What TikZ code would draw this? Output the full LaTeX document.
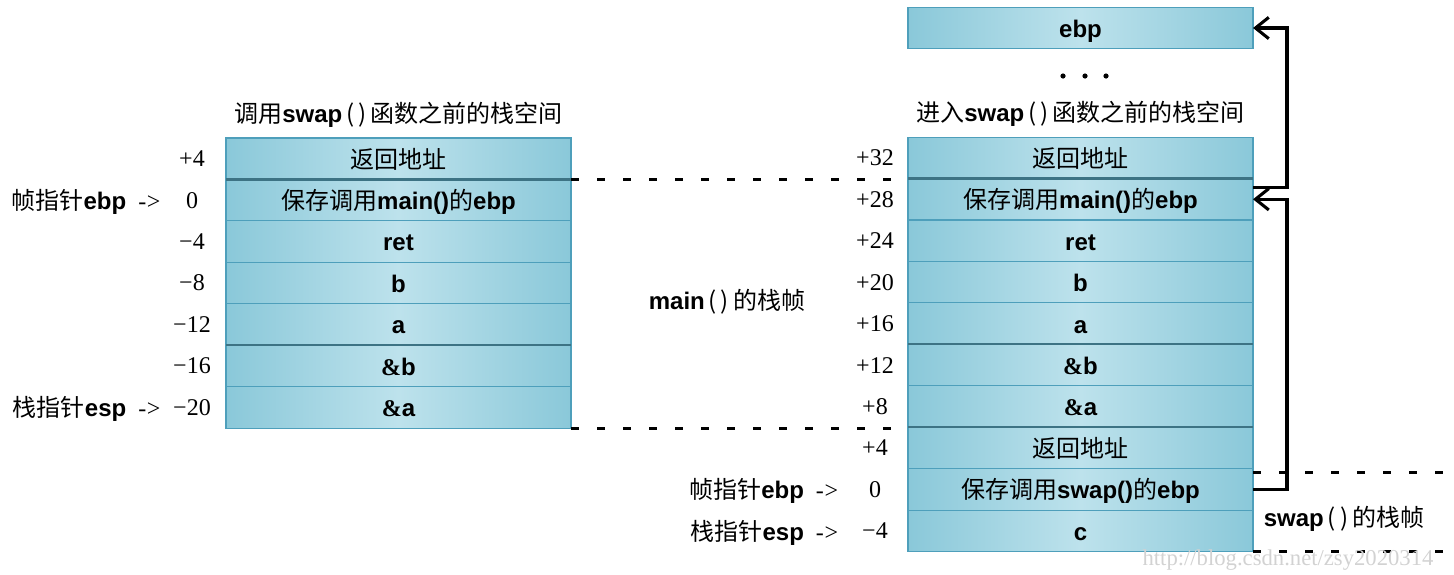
\documentclass[tikz,border=0pt]{standalone}
\usepackage{fontspec}
\setmainfont{Liberation Sans}
\newfontfamily\cjk{Noto Sans CJK SC}
\newfontfamily\serf{Liberation Serif}
\usepackage{tikz}
\usetikzlibrary{arrows.meta, positioning, calc}
\usepackage{xcolor}
\definecolor{cellside}{HTML}{8AC8D9}
\definecolor{cellmid}{HTML}{BDE2EC}
\definecolor{cellline}{HTML}{4E9FBB}
\definecolor{cellsep}{HTML}{3D7384}
\newcommand{\zh}[1]{{\cjk\mdseries #1}}

\begin{document}
\begin{tikzpicture}[x=0.75pt, y=-0.75pt, node distance=0pt, thick]
        % Define block styles
        \tikzstyle{cell} = [rectangle, draw=cellline, line width=0.8pt, left color=cellside, right color=cellside, middle color=cellmid, minimum width=258.75pt, minimum height=31.1pt, inner sep=0pt, outer sep=0pt, text height=14pt, text depth=0pt, font=\fontsize{18}{20}\selectfont\bfseries]
        \tikzstyle{sepline} = [draw=cellsep, line width=1.6pt]
        \tikzstyle{offnum} = [inner sep=0pt, font=\serf\fontsize{18}{20}\selectfont]
        \tikzstyle{ptrlabel} = [inner sep=0pt, anchor=east, text height=14pt, text depth=0pt, font=\fontsize{18}{20}\selectfont\bfseries]
        \tikzstyle{titletext} = [inner sep=0pt, text height=14pt, text depth=0pt, font=\fontsize{18}{20}\selectfont\bfseries]
        \tikzstyle{framedash} = [draw, line width=2.2pt, dash pattern=on 6pt off 13.5pt]
        \tikzstyle{ptrline} = [draw, line width=2.3pt, -{Straight Barb[length=10pt, width=16pt]}]

        \useasboundingbox (0,0) rectangle (1454,575);
        \coordinate (edgeR) at (1454,0);

        % Stack before calling swap()
        \node [cell] (L1) at (398.5,158.7) {\zh{返回地址}};
        \node [cell, below=of L1] (L2) {\zh{保存调用}main()\zh{的}ebp};
        \node [cell, below=of L2] (L3) {ret};
        \node [cell, below=of L3] (L4) {b};
        \node [cell, below=of L4] (L5) {a};
        \node [cell, below=of L5] (L6) {{\serf\&}b};
        \node [cell, below=of L6] (L7) {{\serf\&}a};
        \draw [sepline] (L2.north west) -- (L2.north east);
        \draw [sepline] (L6.north west) -- (L6.north east);
        \node [titletext, above=11pt of L1] (tL) {\zh{调用}swap\zh{\,(\,)\,函数之前的栈空间}};

        % Offsets, left
        \node [offnum] (nL1) at ([xshift=-25.5pt]L1.west) {+4};
        \node [offnum] (nL2) at ([xshift=-25.5pt]L2.west) {0};
        \node [offnum] (nL3) at ([xshift=-25.5pt]L3.west) {−4};
        \node [offnum] (nL4) at ([xshift=-25.5pt]L4.west) {−8};
        \node [offnum] (nL5) at ([xshift=-25.5pt]L5.west) {−12};
        \node [offnum] (nL6) at ([xshift=-25.5pt]L6.west) {−16};
        \node [offnum] (nL7) at ([xshift=-25.5pt]L7.west) {−20};
        \node [ptrlabel] (ebpL) at ([xshift=-48.75pt]L2.west) {\zh{帧指针}ebp\hspace{9pt}{\serf\mdseries -\kern0.5pt>}};
        \node [ptrlabel] (espL) at ([xshift=-48.75pt]L7.west) {\zh{栈指针}esp\hspace{9pt}{\serf\mdseries -\kern0.5pt>}};

        % Stack on entering swap()
        \node [cell] (R0) at (1080.5,28) {ebp};
        \foreach \x in {1063,1085,1106} \fill (\x,76) circle (2.6);
        \node [cell] (R1) at (1080.5,157.8) {\zh{返回地址}};
        \node [cell, below=of R1] (R2) {\zh{保存调用}main()\zh{的}ebp};
        \node [cell, below=of R2] (R3) {ret};
        \node [cell, below=of R3] (R4) {b};
        \node [cell, below=of R4] (R5) {a};
        \node [cell, below=of R5] (R6) {{\serf\&}b};
        \node [cell, below=of R6] (R7) {{\serf\&}a};
        \node [cell, below=of R7] (R8) {\zh{返回地址}};
        \node [cell, below=of R8] (R9) {\zh{保存调用}swap()\zh{的}ebp};
        \node [cell, below=of R9] (R10) {c};
        \draw [sepline] (R2.north west) -- (R2.north east);
        \draw [sepline] (R6.north west) -- (R6.north east);
        \draw [sepline] (R8.north west) -- (R8.north east);
        \node [titletext, above=11pt of R1] (tR) {\zh{进入}swap\zh{\,(\,)\,函数之前的栈空间}};

        % Offsets, right
        \node [offnum] (nR1) at ([xshift=-24.75pt]R1.west) {+32};
        \node [offnum] (nR2) at ([xshift=-24.75pt]R2.west) {+28};
        \node [offnum] (nR3) at ([xshift=-24.75pt]R3.west) {+24};
        \node [offnum] (nR4) at ([xshift=-24.75pt]R4.west) {+20};
        \node [offnum] (nR5) at ([xshift=-24.75pt]R5.west) {+16};
        \node [offnum] (nR6) at ([xshift=-24.75pt]R6.west) {+12};
        \node [offnum] (nR7) at ([xshift=-24.75pt]R7.west) {+8};
        \node [offnum] (nR8) at ([xshift=-24.75pt]R8.west) {+4};
        \node [offnum] (nR9) at ([xshift=-24.75pt]R9.west) {0};
        \node [offnum] (nR10) at ([xshift=-24.75pt]R10.west) {−4};
        \node [ptrlabel] (ebpR) at ([xshift=-52pt]R9.west) {\zh{帧指针}ebp\hspace{9pt}{\serf\mdseries -\kern0.5pt>}};
        \node [ptrlabel] (espR) at ([xshift=-52pt]R10.west) {\zh{栈指针}esp\hspace{9pt}{\serf\mdseries -\kern0.5pt>}};

        % Frames
        \draw [framedash] (L2.north east) -- (L2.north east -| R2.west);
        \draw [framedash] (L7.south east) -- (L7.south east -| R8.west);
        \draw [framedash] ([yshift=-3pt]R9.north east) -- ([yshift=-3pt]R9.north east -| edgeR);
        \draw [framedash] (R10.south east) -- (R10.south east -| edgeR);
        \node [titletext] (mainF) at (727,300) {main\zh{\,(\,)\,的栈帧}};
        \node [titletext] (swapF) at (1344,517) {swap\zh{\,(\,)\,的栈帧}};

        % Saved ebp chain
        \path [ptrline] ([yshift=9pt]R2.east) -- ++(34,0) |- (R0.east);
        \path [ptrline] (R9.east) -- ++(34,0) |- (R2.east);

        \node [inner sep=0pt, text=gray!35, font=\serf\fontsize{17}{17}\selectfont] (wm) at (1288,560) {http://blog.csdn.net/zsy2020314};
\end{tikzpicture}
\end{document}
